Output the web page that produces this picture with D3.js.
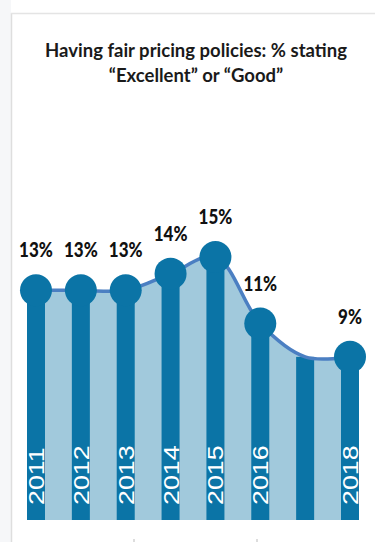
<!DOCTYPE html>
<html>
<head>
<meta charset="utf-8">
<script src="https://cdn.jsdelivr.net/npm/d3@7"></script>
<style>
  html, body { margin: 0; padding: 0; background: #fff; }
  svg { display: block; }
</style>
</head>
<body>
<svg width="375" height="542"></svg>
<script>
// data
var years = ["2011", "2012", "2013", "2014", "2015", "2016", "2017", "2018"]
var values = [13, 13, 13, 14, 15, 11, 9, 9]
var valueLabels = ["13%", "13%", "13%", "14%", "15%", "11%", null, "9%"]
var yearLabels = ["2011", "2012", "2013", "2014", "2015", "2016", "", "2018"]
var titleLines = ["Having fair pricing policies: % stating", "\u201CExcellent\u201D or \u201CGood\u201D"]

var dark = "#0b74a6", light = "#a1c9dc", lineCol = "#4b7fc2"
var stretch = 1.22 // the picture is a bit taller than wide

var svg = d3.select("svg")

// frame of the card
svg.append("rect").attr("x", 0).attr("y", 0).attr("width", 11).attr("height", 542).style("fill", "#f6f7f9")
svg.append("line").attr("x1", 11.5).attr("x2", 11.5).attr("y1", 13).attr("y2", 542)
  .style("stroke", "#dedede").style("stroke-width", 1.5)
svg.append("line").attr("x1", 11).attr("x2", 375).attr("y1", 13.5).attr("y2", 13.5)
  .style("stroke", "#e4e4e4").style("stroke-width", 1.5)
// bits of whatever sits below the card
svg.selectAll("line.stub")
  .data([134, 257])
  .enter().append("line")
    .attr("class", "stub")
    .attr("x1", function(d) { return d }).attr("x2", function(d) { return d })
    .attr("y1", 539).attr("y2", 542)
    .style("stroke", "#bbb")

// title
svg.selectAll("text.title")
  .data(titleLines)
  .enter().append("text")
    .attr("class", "title")
    .attr("x", 196)
    .attr("y", function(d, i) { return 57 + i * 25 })
    .attr("text-anchor", "middle")
    .style("font-family", "Lato, 'Open Sans', sans-serif")
    .style("font-weight", "bold")
    .style("font-size", "18.5px")
    .style("fill", "#1a1a1a")
    .text(function(d) { return d })

var x = d3.scalePoint().domain(years).range([36, 350])
var y = d3.scaleLinear().domain([-0.8, 15]).range([520, 257])
var barW = 18
var curve = d3.curveCatmullRom.alpha(0.5)

// light fill under the curve
var area = d3.area()
  .x(function(d, i) { return x(years[i]) })
  .y0(y(-0.8))
  .y1(function(d) { return y(d) })
  .curve(curve)

svg.append("path")
  .datum(values)
  .attr("d", area)
  .style("fill", light)

// dark columns
svg.selectAll("rect.bar")
  .data(values)
  .enter().append("rect")
    .attr("class", "bar")
    .attr("x", function(d, i) { return x(years[i]) - barW / 2 })
    .attr("y", function(d) { return y(d) })
    .attr("width", barW)
    .attr("height", function(d) { return y(-0.8) - y(d) })
    .style("fill", dark)

// line
var line = d3.line()
  .x(function(d, i) { return x(years[i]) })
  .y(function(d) { return y(d) })
  .curve(curve)

svg.append("path")
  .datum(values)
  .attr("d", line)
  .style("fill", "none")
  .style("stroke", lineCol)
  .style("stroke-width", 3.5)

// dots (none for 2017)
var pts = values.map(function(d, i) { return { year: years[i], v: d, label: valueLabels[i] } })
  .filter(function(d) { return d.label })

svg.selectAll("circle.dot")
  .data(pts)
  .enter().append("circle")
    .attr("class", "dot")
    .attr("cx", function(d) { return x(d.year) })
    .attr("cy", function(d) { return y(d.v) })
    .attr("r", 16)
    .style("fill", dark)

svg.selectAll("text.val")
  .data(pts)
  .enter().append("text")
    .attr("class", "val")
    .attr("transform", function(d) { return "translate(" + x(d.year) + "," + (y(d.v) - 33) + ") scale(1," + stretch + ")" })
    .attr("text-anchor", "middle")
    .style("font-family", "Lato, 'Open Sans', sans-serif")
    .style("font-weight", "900")
    .style("font-size", "17px")
    .style("fill", "#111")
    .text(function(d) { return d.label })

// year labels, rotated inside the columns
svg.selectAll("text.year")
  .data(yearLabels)
  .enter().append("text")
    .attr("class", "year")
    .attr("transform", function(d, i) { return "translate(" + (x(years[i]) + 8) + ",505) scale(1," + stretch + ") rotate(-90)" })
    .style("font-family", "'Liberation Sans', Arial, sans-serif")
    .style("font-size", "22px")
    .style("fill", "#fff")
    .text(function(d) { return d })
</script>
</body>
</html>
